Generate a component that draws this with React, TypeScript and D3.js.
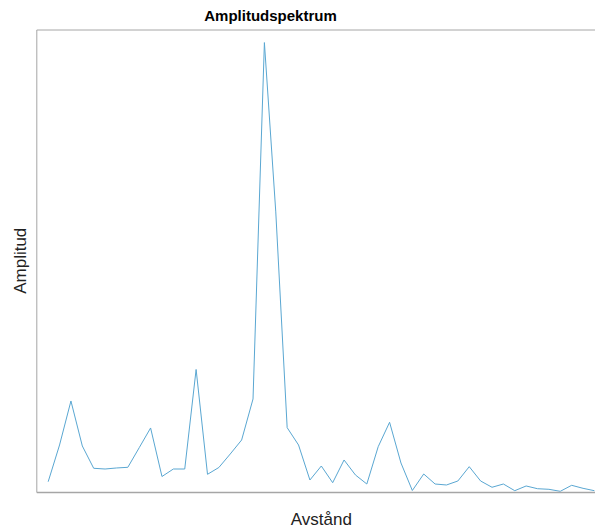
import React from "react";
import * as d3 from "d3";

const distance: number[] = d3.range(1, 50);
const amplitude: number[] = [
  2.18, 10.36, 20.16, 10.14, 5.17, 5.01, 5.24, 5.39, 9.76, 14.15,
  3.34, 5.01, 5.01, 27.18, 3.83, 5.35, 8.36, 11.47, 20.61, 100,
  62.28, 14.22, 10.36, 2.56, 5.68, 1.96, 7.02, 3.68, 1.67, 9.98,
  15.42, 6.35, 0.22, 3.9, 1.67, 1.45, 2.34, 5.53, 2.34, 0.94,
  1.67, 0.18, 1.23, 0.62, 0.49, 0.04, 1.38, 0.71, 0.18,
];
const title = "Amplitudspektrum";
const xLabel = "Avstånd";
const yLabel = "Amplitud";

const W = 595;
const H = 529;
const left = 36.8;
const right = 605.8;
const top = 30;
const bottom = 491.5;

export default function App() {
  const x = d3.scaleLinear().domain([0, 50]).range([left, right]);
  const y = d3.scaleLinear().domain([0, 102.8]).range([bottom, top]);
  const line = d3
    .line<number>()
    .x((_, i) => x(distance[i]))
    .y((d) => y(d));
  const font = "Arial, 'Liberation Sans', Helvetica, sans-serif";
  return (
    <div style={{ position: "absolute", left: 0, top: 0 }}>
      <svg width={W} height={H} style={{ display: "block", background: "#fff" }}>
        <rect x={0} y={0} width={W} height={H} fill="#fff" />
        <path d={line(amplitude) || ""} fill="none" stroke="#5aa7d2" strokeWidth={1} />
        <line x1={left} x2={right} y1={top} y2={top} stroke="#a6a6a6" strokeWidth={1} />
        <line x1={left} x2={right} y1={bottom + 1} y2={bottom + 1} stroke="#a6a6a6" strokeWidth={1.4} />
        <line x1={left} x2={left} y1={top} y2={bottom + 1} stroke="#a6a6a6" strokeWidth={1} />
        <text x={270.5} y={21} textAnchor="middle" fontFamily={font} fontWeight="bold" fontSize={15} fill="#000">
          {title}
        </text>
        <text x={(left + right) / 2} y={525} textAnchor="middle" fontFamily={font} fontSize={17} fill="#222">
          {xLabel}
        </text>
        <text
          transform={`translate(26, ${(top + bottom) / 2}) rotate(-90)`}
          textAnchor="middle"
          fontFamily={font}
          fontSize={17}
          fill="#222"
        >
          {yLabel}
        </text>
      </svg>
    </div>
  );
}
